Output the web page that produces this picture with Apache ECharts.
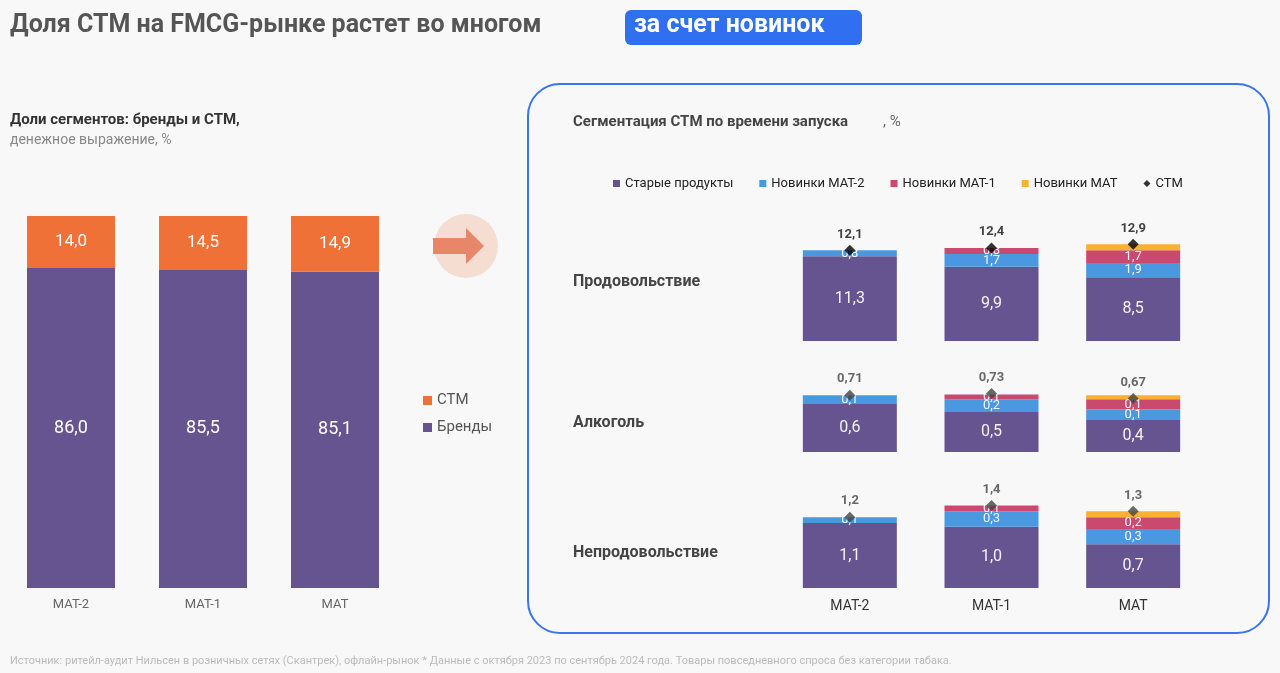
<!DOCTYPE html>
<html><head><meta charset="utf-8">
<script src="https://cdn.jsdelivr.net/npm/echarts@6/dist/echarts.min.js"></script>
<style>html,body{margin:0;background:#f8f8f8}#c{width:1280px;height:673px}</style>
</head><body><div id="c"></div>
<script>
var periods = ['МАТ-2', 'МАТ-1', 'МАТ'];
var brands = [86.0, 85.5, 85.1];
var stm = [14.0, 14.5, 14.9];

// right panel: rows = продовольствие, алкоголь, непродовольствие
var rows = ['Продовольствие', 'Алкоголь', 'Непродовольствие'];
var oldProd = [[11.3, 9.9, 8.5], [0.6, 0.5, 0.4], [1.1, 1.04, 0.74]];
var new2 = [[0.8, 1.7, 1.9], [0.11, 0.16, 0.13], [0.1, 0.26, 0.26]];
var new1 = [[0, 0.8, 1.7], [0, 0.06, 0.13], [0, 0.1, 0.2]];
var newMat = [[0, 0, 0.8], [0, 0, 0.05], [0, 0, 0.1]];
var stmTotal = [[12.1, 12.4, 12.9], [0.71, 0.73, 0.67], [1.2, 1.4, 1.3]];
var stmLabels = [['12,1', '12,4', '12,9'], ['0,71', '0,73', '0,67'], ['1,2', '1,4', '1,3']];

var C = {purple: '#65548f', orange: '#f07138', blue: '#4a98e0', red: '#c9496f', yellow: '#f8b133'};
var rowGrid = [{top: 243.5, height: 97.5, max: 13}, {top: 388, height: 64, max: 0.8}, {top: 499.5, height: 88.5, max: 1.5}];
var comma = function (v) { return v.toFixed(1).replace('.', ','); };

var grid = [{left: 5, width: 396, top: 216, height: 372}];
var xAxis = [{gridIndex: 0, type: 'category', data: periods, axisLine: {show: false}, axisTick: {show: false},
  axisLabel: {color: '#666', fontSize: 13, margin: 10}}];
var yAxis = [{gridIndex: 0, type: 'value', min: 0, max: 100, show: false}];
var series = [
  {name: 'Бренды', type: 'bar', stack: 'l', xAxisIndex: 0, yAxisIndex: 0, data: brands, barWidth: 88,
    itemStyle: {color: C.purple}, label: {show: true, color: '#fff', fontSize: 18, formatter: function (p) { return comma(p.value); }}},
  {name: 'СТМ', type: 'bar', stack: 'l', xAxisIndex: 0, yAxisIndex: 0, data: stm, barWidth: 88,
    itemStyle: {color: C.orange}, label: {show: true, color: '#fff', fontSize: 17, formatter: function (p) { return comma(p.value); }}}
];

rows.forEach(function (r, i) {
  var g = i + 1;
  grid.push({left: 779, width: 425, top: rowGrid[i].top, height: rowGrid[i].height});
  xAxis.push({gridIndex: g, type: 'category', data: periods, axisLine: {show: false}, axisTick: {show: false},
    axisLabel: {show: i === 2, color: '#333', fontSize: 14, margin: 11}});
  yAxis.push({gridIndex: g, type: 'value', min: 0, max: rowGrid[i].max, show: false});
  var mk = function (name, data, color, fs) {
    return {name: name, type: 'bar', stack: 'r' + i, xAxisIndex: g, yAxisIndex: g, data: data, barWidth: 94,
      itemStyle: {color: color},
      label: {show: fs > 0, color: 'rgba(255,255,255,0.92)', fontSize: fs,
        formatter: function (p) { return p.value > 0 ? comma(p.value) : ''; }}};
  };
  series.push(mk('Старые продукты', oldProd[i], C.purple, 16));
  series.push(mk('Новинки МАТ-2', new2[i], C.blue, 13));
  series.push(mk('Новинки МАТ-1', new1[i], C.red, 13));
  series.push(mk('Новинки МАТ', newMat[i], C.yellow, 0));
  series.push({name: 'СТМ ', type: 'scatter', xAxisIndex: g, yAxisIndex: g, data: stmTotal[i], symbol: 'diamond',
    symbolSize: 11, itemStyle: {color: i === 0 ? '#000' : '#444'}, z: 10,
    label: {show: true, position: 'top', distance: 4, fontWeight: 'bold', fontSize: 13, color: i === 0 ? '#111' : '#444',
      formatter: function (p) { return stmLabels[i][p.dataIndex]; }}});
});

var graphic = [
  {type: 'text', left: 10, top: 13, style: {text: 'Доля СТМ на FMCG-рынке растет во многом', fill: '#555', font: 'bold 25px Roboto, sans-serif'}},
  {type: 'rect', shape: {x: 625, y: 10, width: 237, height: 35, r: 6}, style: {fill: '#2f6ff0'}},
  {type: 'text', left: 634, top: 13, style: {text: 'за счет новинок', fill: '#fff', font: 'bold 25px Roboto, sans-serif'}},
  {type: 'text', left: 10, top: 113, style: {text: 'Доли сегментов: бренды и СТМ,', fill: '#333', font: 'bold 15px Roboto, sans-serif'}},
  {type: 'text', left: 10, top: 133, style: {text: 'денежное выражение, %', fill: '#888', font: '14px Roboto, sans-serif'}},
  {type: 'circle', shape: {cx: 466, cy: 246, r: 32}, style: {fill: '#f6ddd2'}},
  {type: 'polygon', shape: {points: [[433, 238], [466, 238], [466, 228], [484, 246], [466, 264], [466, 254], [433, 254]]}, style: {fill: '#e8866a'}},
  {type: 'rect', shape: {x: 528, y: 84, width: 741, height: 549, r: 32}, style: {fill: 'none', stroke: '#3b74f0', lineWidth: 2}},
  {type: 'text', left: 573, top: 115, style: {text: 'Сегментация СТМ по времени запуска', fill: '#444', font: 'bold 15px Roboto, sans-serif'}},
  {type: 'text', left: 883, top: 115, style: {text: ', %', fill: '#666', font: '15px Roboto, sans-serif'}},
  {type: 'text', left: 10, top: 656, style: {text: 'Источник: ритейл-аудит Нильсен в розничных сетях (Скантрек), офлайн-рынок * Данные с октября 2023 по сентябрь 2024 года. Товары повседневного спроса без категории табака.', fill: '#bbb', font: '11px Roboto, sans-serif'}}
];
var rowY = [283, 424, 554];
rows.forEach(function (r, i) {
  graphic.push({type: 'text', left: 573, top: rowY[i] - 9, style: {text: r, fill: '#444', font: 'bold 16px Roboto, sans-serif'}});
});

var chart = echarts.init(document.getElementById('c'));
chart.setOption({
  backgroundColor: '#f8f8f8',
  textStyle: {fontFamily: 'Roboto, sans-serif'},
  animation: false,
  grid: grid, xAxis: xAxis, yAxis: yAxis, series: series, graphic: graphic,
  legend: [
    {orient: 'vertical', left: 418, top: 388, itemWidth: 9, itemHeight: 9, itemGap: 12, icon: 'rect',
      textStyle: {color: '#555', fontSize: 15}, data: ['СТМ', 'Бренды']},
    {left: 608, top: 172, itemWidth: 7, itemHeight: 7, itemGap: 26, textStyle: {color: '#222', fontSize: 13},
      data: [{name: 'Старые продукты', icon: 'rect'}, {name: 'Новинки МАТ-2', icon: 'rect'},
        {name: 'Новинки МАТ-1', icon: 'rect'}, {name: 'Новинки МАТ', icon: 'rect'}, {name: 'СТМ ', icon: 'diamond'}]}
  ]
});
</script></body></html>
